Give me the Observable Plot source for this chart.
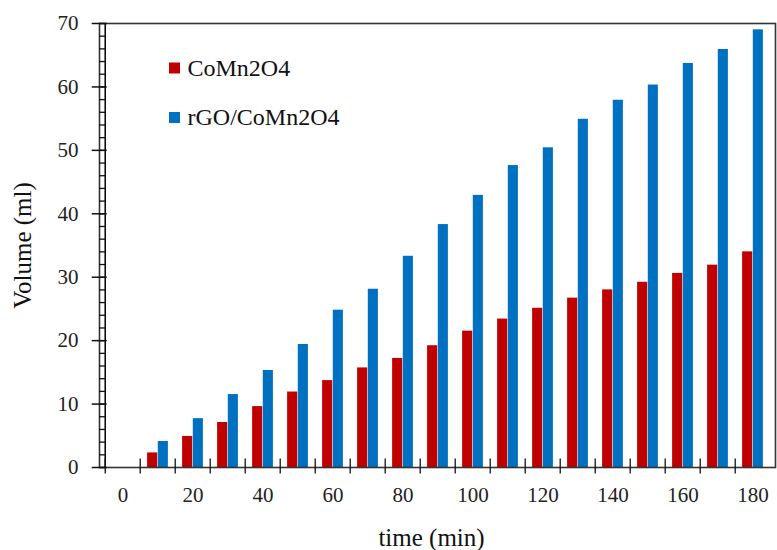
<!DOCTYPE html>
<html>
<head>
<meta charset="utf-8">
<script src="https://cdn.jsdelivr.net/npm/d3@7"></script>
<script src="https://cdn.jsdelivr.net/npm/@observablehq/plot@0.6"></script>
<style>
  html, body { margin: 0; padding: 0; background: #fff; }
  #chart { width: 777px; height: 550px; }
</style>
</head>
<body>
<div id="chart"></div>
<script>
// ---- data ----
const times = [0, 10, 20, 30, 40, 50, 60, 70, 80, 90, 100, 110, 120, 130, 140, 150, 160, 170, 180];
const coMn2O4 = [0, 2.3, 4.9, 7.1, 9.6, 11.9, 13.7, 15.7, 17.2, 19.2, 21.5, 23.4, 25.1, 26.7, 28.0, 29.2, 30.6, 31.9, 34.0];
const rGOCoMn2O4 = [0, 4.1, 7.7, 11.5, 15.3, 19.4, 24.8, 28.1, 33.3, 38.3, 42.9, 47.6, 50.4, 54.9, 57.9, 60.3, 63.7, 65.9, 69.0];
const seriesNames = ["CoMn2O4", "rGO/CoMn2O4"];
const xTickLabels = [0, 20, 40, 60, 80, 100, 120, 140, 160, 180];
const yMajorTicks = [0, 10, 20, 30, 40, 50, 60, 70];
const yMinorTicks = d3.range(0, 71, 2);

// ---- layout / style ----
const W = 777, H = 550, ML = 99, MR = 2, MT = 23, MB = 83;
const FW = W - ML - MR, FH = H - MT - MB;
const colors = ["#C00000", "#0070C0"];
const font = "Liberation Serif, Times New Roman, serif";
const bw = FW / times.length;
const barW = bw * 0.3;
const inset = (bw - barW) / 2;

const rows = times.map((t, i) => ({time: t, a: coMn2O4[i], b: rGOCoMn2O4[i]}));

const legendMarks = seriesNames.flatMap((name, i) => [
  Plot.dot([name], {frameAnchor: "top-left", dx: 174 - ML, dy: 67.5 - MT + i * 49.5,
    symbol: "square", r: 6.2, fill: colors[i], stroke: "none"}),
  Plot.text([name], {frameAnchor: "top-left", dx: 187 - ML, dy: 67.5 - MT + i * 49.5,
    text: d => d, textAnchor: "start", lineAnchor: "middle", fontSize: 24, fill: "#111"})
]);

const chart = Plot.plot({
  width: W, height: H,
  marginLeft: ML, marginRight: MR, marginTop: MT, marginBottom: MB,
  style: {fontFamily: font, fontSize: "21px", background: "#fff", color: "#111"},
  x: {type: "band", domain: times, padding: 0},
  y: {domain: [0, 70]},
  marks: [
    Plot.barY(rows, {x: "time", y: "a", fill: colors[0], insetLeft: inset, insetRight: inset, dx: -barW / 2}),
    Plot.barY(rows, {x: "time", y: "b", fill: colors[1], insetLeft: inset, insetRight: inset, dx: barW / 2}),
    Plot.frame({stroke: "#333", strokeWidth: 1.6}),
    Plot.ruleX([0], {x: () => times[0], dx: -bw / 2, stroke: "#000", strokeWidth: 1.5}),
    // y ticks: minor (inside), major (crossing)
    Plot.tickY(yMinorTicks, {y: d => d, insetRight: FW - 6.5, stroke: "#111", strokeWidth: 1.3}),
    Plot.tickY(yMajorTicks, {y: d => d, insetRight: FW - 15, dx: -7.3, stroke: "#111", strokeWidth: 1.5}),
    Plot.axisY({ticks: yMajorTicks, tickSize: 0, tickPadding: 21, label: null, fontSize: 21, fill: "#222"}),
    // x ticks at category boundaries (crossing)
    Plot.tickX(times, {x: d => d, insetTop: FH - 15, dy: 6.6, dx: -bw / 2, stroke: "#111", strokeWidth: 1.3}),
    Plot.axisX({ticks: xTickLabels, tickSize: 0, tickPadding: 20, label: null, fontSize: 21, fill: "#222"}),
    // axis titles
    Plot.text(["time (min)"], {frameAnchor: "bottom", dx: -6, dy: 70, text: d => d, textAnchor: "middle", lineAnchor: "middle", fontSize: 25, fill: "#111"}),
    Plot.text(["Volume (ml)"], {frameAnchor: "left", dx: 22.5 - ML, rotate: -90, text: d => d, textAnchor: "middle", lineAnchor: "middle", fontSize: 25, fill: "#111"}),
    ...legendMarks
  ]
});
document.getElementById("chart").appendChild(chart);
</script>
</body>
</html>
